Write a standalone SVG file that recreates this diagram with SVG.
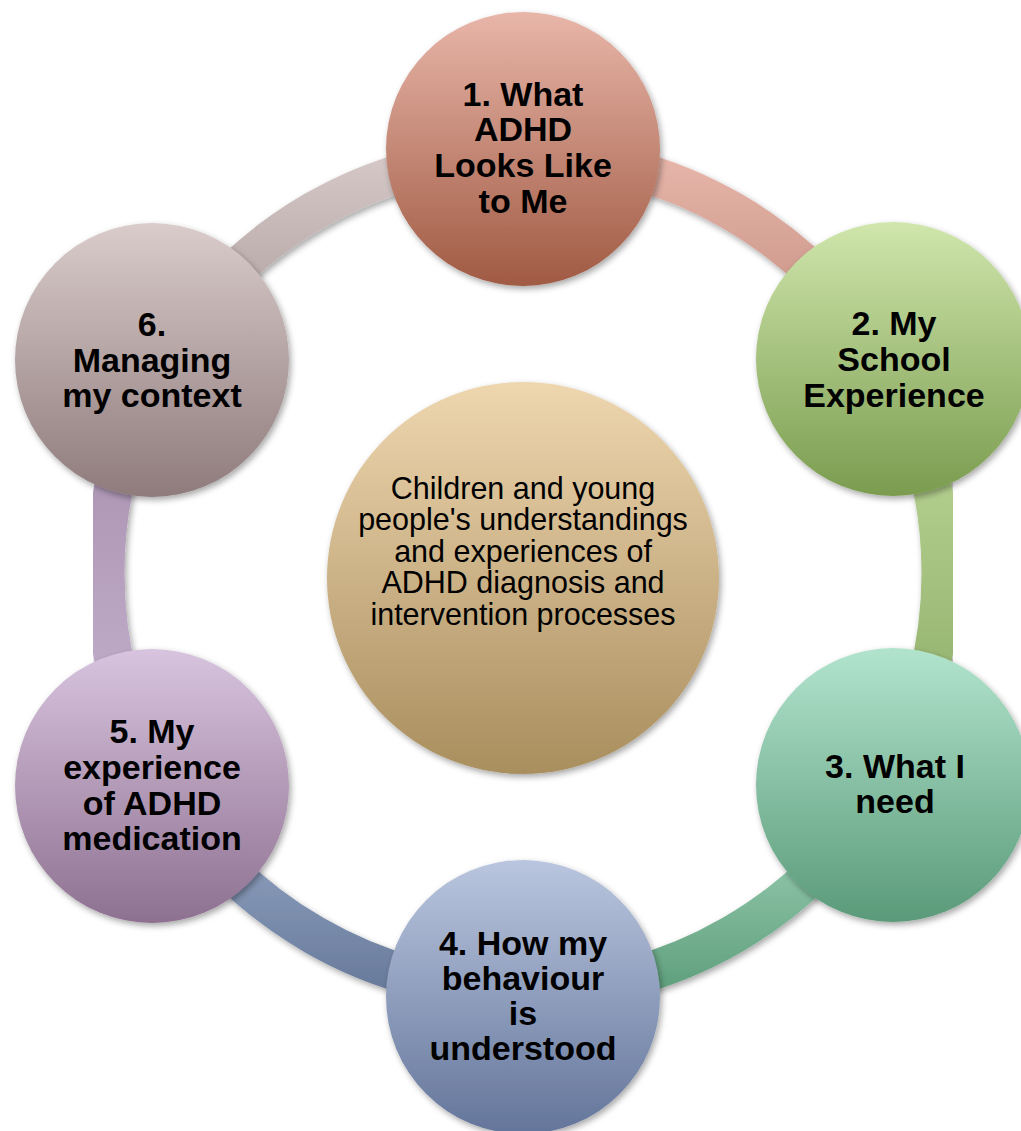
<svg xmlns="http://www.w3.org/2000/svg" width="1021" height="1131" viewBox="0 0 1021 1131">
<defs>
<filter id="sh" x="-20%" y="-20%" width="140%" height="140%">
<feDropShadow dx="2" dy="3" stdDeviation="3" flood-color="#000" flood-opacity="0.35"/>
</filter>
<linearGradient id="g1" x1="0" y1="0" x2="0" y2="1"><stop offset="0" stop-color="#e8b6a9"/><stop offset="1" stop-color="#a05a43"/></linearGradient>
<linearGradient id="g2" x1="0" y1="0" x2="0" y2="1"><stop offset="0" stop-color="#d0e6ac"/><stop offset="1" stop-color="#7a9c4f"/></linearGradient>
<linearGradient id="g3" x1="0" y1="0" x2="0" y2="1"><stop offset="0" stop-color="#b2e4cd"/><stop offset="1" stop-color="#5a9a79"/></linearGradient>
<linearGradient id="g4" x1="0" y1="0" x2="0" y2="1"><stop offset="0" stop-color="#bac6df"/><stop offset="1" stop-color="#63759a"/></linearGradient>
<linearGradient id="g5" x1="0" y1="0" x2="0" y2="1"><stop offset="0" stop-color="#d8c4de"/><stop offset="1" stop-color="#8e7191"/></linearGradient>
<linearGradient id="g6" x1="0" y1="0" x2="0" y2="1"><stop offset="0" stop-color="#d9cccb"/><stop offset="1" stop-color="#8f7b7b"/></linearGradient>
<linearGradient id="gc" x1="0" y1="0" x2="0" y2="1"><stop offset="0" stop-color="#eed6af"/><stop offset="1" stop-color="#a98e5e"/></linearGradient>
<linearGradient id="a1" x1="0" y1="0" x2="0" y2="1"><stop offset="0" stop-color="#e7b5a9"/><stop offset="1" stop-color="#c08a7e"/></linearGradient>
<linearGradient id="a2" x1="0" y1="0" x2="0" y2="1"><stop offset="0" stop-color="#c3dd9e"/><stop offset="1" stop-color="#88a762"/></linearGradient>
<linearGradient id="a3" x1="0" y1="0" x2="0" y2="1"><stop offset="0" stop-color="#a9dbc1"/><stop offset="1" stop-color="#5f9f7d"/></linearGradient>
<linearGradient id="a4" x1="0" y1="0" x2="0" y2="1"><stop offset="0" stop-color="#9dafcb"/><stop offset="1" stop-color="#687a9b"/></linearGradient>
<linearGradient id="a5" x1="0" y1="0" x2="0" y2="1"><stop offset="0" stop-color="#a48cab"/><stop offset="1" stop-color="#c7b4d1"/></linearGradient>
<linearGradient id="a6" x1="0" y1="0" x2="0" y2="1"><stop offset="0" stop-color="#d5c8c7"/><stop offset="1" stop-color="#a99999"/></linearGradient>
</defs>
<style>
.arc{fill:none;stroke-width:39;filter:url(#sh)}
.node{filter:url(#sh)}
.t{font-family:"Liberation Sans",Arial,sans-serif;font-weight:bold;font-size:34px;text-anchor:middle;fill:#000}
.c{font-family:"Liberation Sans",Arial,sans-serif;font-size:30.5px;text-anchor:middle;fill:#000}
</style>
<rect width="1021" height="1131" fill="#fff"/>
<g id="connectors">
<path class="arc" stroke="url(#a1)" d="M523 155 A418 418 0 0 1 885 364"/>
<path class="arc" stroke="url(#a2)" d="M885 364 A418 418 0 0 1 885 782"/>
<path class="arc" stroke="url(#a3)" d="M885 782 A418 418 0 0 1 523 991"/>
<path class="arc" stroke="url(#a4)" d="M523 991 A418 418 0 0 1 161 782"/>
<path class="arc" stroke="url(#a5)" d="M161 782 A418 418 0 0 1 161 364"/>
<path class="arc" stroke="url(#a6)" d="M161 364 A418 418 0 0 1 523 155"/>
</g>
<g id="center">
<circle class="node" cx="523" cy="578" r="196" fill="url(#gc)"/>
<text class="c" x="523"><tspan x="523" y="499">Children and young</tspan><tspan x="523" y="530">people's understandings</tspan><tspan x="523" y="562">and experiences of</tspan><tspan x="523" y="593">ADHD diagnosis and</tspan><tspan x="523" y="625">intervention processes</tspan></text>
</g>
<g id="node1">
<circle class="node" cx="523" cy="149" r="137" fill="url(#g1)"/>
<text class="t"><tspan x="523" y="106">1. What</tspan><tspan x="523" y="141">ADHD</tspan><tspan x="523" y="177">Looks Like</tspan><tspan x="523" y="213">to Me</tspan></text>
</g>
<g id="node2">
<circle class="node" cx="893" cy="359" r="137" fill="url(#g2)"/>
<text class="t"><tspan x="894" y="335">2. My</tspan><tspan x="894" y="371">School</tspan><tspan x="894" y="407">Experience</tspan></text>
</g>
<g id="node3">
<circle class="node" cx="893" cy="785" r="137" fill="url(#g3)"/>
<text class="t"><tspan x="895" y="778">3. What I</tspan><tspan x="895" y="813">need</tspan></text>
</g>
<g id="node4">
<circle class="node" cx="523" cy="997" r="137" fill="url(#g4)"/>
<text class="t"><tspan x="523" y="955">4. How my</tspan><tspan x="523" y="990">behaviour</tspan><tspan x="523" y="1025">is</tspan><tspan x="523" y="1060">understood</tspan></text>
</g>
<g id="node5">
<circle class="node" cx="152" cy="786" r="137" fill="url(#g5)"/>
<text class="t"><tspan x="152" y="743">5. My</tspan><tspan x="152" y="779">experience</tspan><tspan x="152" y="815">of ADHD</tspan><tspan x="152" y="850">medication</tspan></text>
</g>
<g id="node6">
<circle class="node" cx="152" cy="360" r="137" fill="url(#g6)"/>
<text class="t"><tspan x="152" y="336">6.</tspan><tspan x="152" y="372">Managing</tspan><tspan x="152" y="407">my context</tspan></text>
</g>
</svg>
